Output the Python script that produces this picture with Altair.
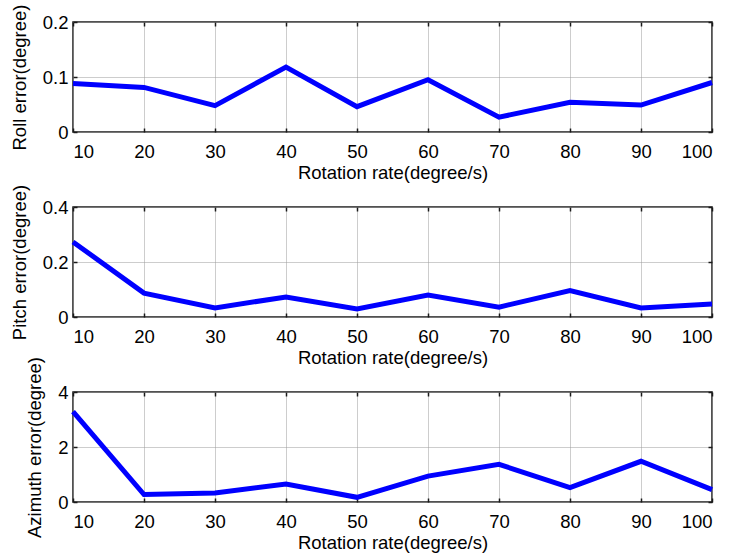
import altair as alt
import pandas as pd

rates = [10, 20, 30, 40, 50, 60, 70, 80, 90, 100]
roll = [0.088, 0.081, 0.048, 0.118, 0.046, 0.095, 0.027, 0.054, 0.049, 0.090]
pitch = [0.273, 0.087, 0.033, 0.073, 0.029, 0.080, 0.036, 0.096, 0.033, 0.047]
azimuth = [3.29, 0.27, 0.33, 0.65, 0.17, 0.94, 1.37, 0.52, 1.48, 0.45]

roll_ticks = [0, 0.1, 0.2]
pitch_ticks = [0, 0.2, 0.4]
azimuth_ticks = [0, 2, 4]

x_title = "Rotation rate(degree/s)"
W, H = 639, 110
FONT = "Liberation Sans"
FS = 18.5


def panel(values, yticks, ytitle):
    df = pd.DataFrame({"rate": rates, "err": values})
    xs = alt.Scale(domain=[rates[0], rates[-1]], nice=False, zero=False)
    ys = alt.Scale(domain=[yticks[0], yticks[-1]], nice=False)
    base = alt.Chart(df)
    main = base.mark_line(color="#0000FF", strokeWidth=5).encode(
        x=alt.X("rate:Q", scale=xs, axis=alt.Axis(
            values=rates, title=x_title, grid=True, ticks=False, domain=False,
            labelPadding=10, titlePadding=3, format="d")),
        y=alt.Y("err:Q", scale=ys, axis=alt.Axis(
            values=yticks, title=ytitle, grid=True, ticks=False, domain=False,
            labelPadding=5, titlePadding=13, format="~g")),
    )
    inner1 = base.mark_line(opacity=0).encode(
        x=alt.X("rate:Q", scale=xs, axis=alt.Axis(
            orient="top", offset=-H, values=rates, labels=False, title=None,
            grid=False, domain=False, ticks=True, tickSize=4)),
        y=alt.Y("err:Q", scale=ys, axis=alt.Axis(
            orient="right", offset=-W, values=yticks, labels=False, title=None,
            grid=False, domain=False, ticks=True, tickSize=4)),
    )
    inner2 = base.mark_line(opacity=0).encode(
        x=alt.X("rate:Q", scale=xs, axis=alt.Axis(
            orient="bottom", offset=-H, values=rates, labels=False, title=None,
            grid=False, domain=False, ticks=True, tickSize=4)),
        y=alt.Y("err:Q", scale=ys, axis=alt.Axis(
            orient="left", offset=-W, values=yticks, labels=False, title=None,
            grid=False, domain=False, ticks=True, tickSize=4)),
    )
    return alt.layer(main, inner1, inner2).resolve_axis(
        x="independent", y="independent"
    ).properties(width=W, height=H)


chart = alt.vconcat(
    panel(roll, roll_ticks, "Roll error(degree)"),
    panel(pitch, pitch_ticks, "Pitch error(degree)"),
    panel(azimuth, azimuth_ticks, "Azimuth error(degree)"),
    spacing=75,
    bounds="flush",
).properties(
    padding={"left": 9, "top": 3, "right": 5, "bottom": 0},
    background="white",
).configure_view(
    stroke="#1a1a1a", strokeWidth=1.5
).configure_axis(
    labelFont=FONT, titleFont=FONT, labelFontSize=FS, titleFontSize=FS,
    labelColor="black", titleColor="black", titleFontWeight="normal",
    gridColor="#9a9a9a", gridDash=[1, 1], gridWidth=1, gridOpacity=1,
    tickColor="#1a1a1a", tickWidth=1.5,
)

chart.save("out.html", embed_options={"renderer": "svg", "actions": False})
